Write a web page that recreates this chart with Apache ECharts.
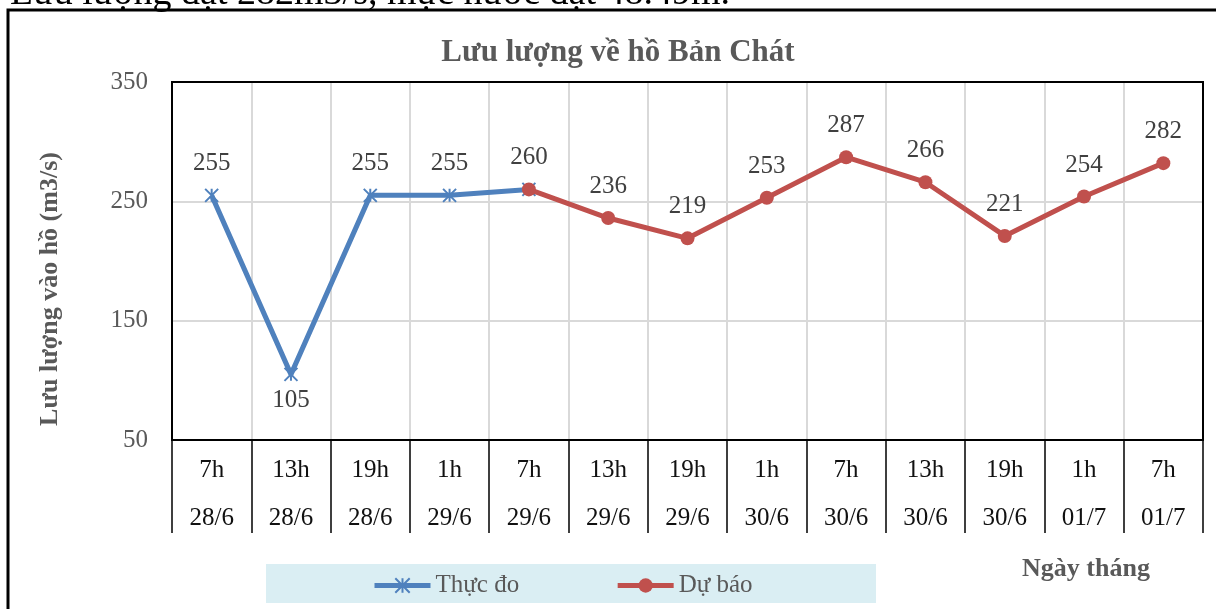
<!DOCTYPE html>
<html>
<head>
<meta charset="utf-8">
<script src="https://cdn.jsdelivr.net/npm/echarts@6/dist/echarts.min.js"></script>
<style>
html,body{margin:0;padding:0;background:#fff;}
#chart{width:1216px;height:609px;}
</style>
</head>
<body>
<div id="chart"></div>
<script>
var hours = ['7h','13h','19h','1h','7h','13h','19h','1h','7h','13h','19h','1h','7h'];
var dates = ['28/6','28/6','28/6','29/6','29/6','29/6','29/6','30/6','30/6','30/6','30/6','01/7','01/7'];
var observed = [255,105,255,255,260,null,null,null,null,null,null,null,null];
var forecast = [null,null,null,null,260,236,219,253,287,266,221,254,282];
var yTicks = [50,150,250,350];
var titleText = 'Lưu lượng về hồ Bản Chát';
var yName = 'Lưu lượng vào hồ (m3/s)';
var xName = 'Ngày tháng';
var topText = 'Lưu lượng đạt 282m3/s, mực nước đạt 48.49m.';

var FONT = '"Liberation Serif","Times New Roman",serif';
var categories = hours.map(function(h,i){ return h + '\n' + dates[i]; });

var obsData = observed.map(function(v,i){
  if (v === null) return '-';
  var item = {value: v};
  if (i === 1) item.label = {position:'bottom', distance: 6};
  if (forecast[i] !== null) item.label = {show:false};
  return item;
});
var fcData = forecast.map(function(v){ return v === null ? '-' : v; });

var chart = echarts.init(document.getElementById('chart'));
var labelStyle = {show:true, position:'top', distance:12, color:'#404040', fontSize:25, fontFamily:FONT};

chart.setOption({
  animation:false,
  backgroundColor:'#fff',
  title:{text:titleText, left:613, textAlign:'center', top:32,
    textStyle:{fontFamily:FONT, fontWeight:'bold', fontSize:31, color:'#595959'}},
  grid:{left:172, right:13, top:82, bottom:169},
  legend:{left:367, top:568, itemWidth:56, itemHeight:18, itemGap:96,
    lineStyle:{width:5},
    textStyle:{fontFamily:FONT, fontSize:25, color:'#595959'},
    data:['Thực đo','Dự báo']},
  xAxis:{type:'category', data:categories, boundaryGap:true,
    axisLine:{lineStyle:{color:'#000', width:2}},
    axisTick:{show:true, length:93, lineStyle:{color:'#000', width:1.5}},
    splitLine:{show:true, lineStyle:{color:'#D9D9D9', width:2}},
    axisLabel:{fontFamily:FONT, fontSize:25, color:'#111', lineHeight:48, margin:6, interval:0}},
  yAxis:{type:'value', min:yTicks[0], max:yTicks[yTicks.length-1], interval:100,
    axisLine:{show:false}, axisTick:{show:false},
    splitLine:{lineStyle:{color:'#D9D9D9', width:2}},
    axisLabel:{fontFamily:FONT, fontSize:25, color:'#595959', margin:24}},
  graphic:[
    {type:'rect', z:-10, shape:{x:8, y:10, width:1300, height:700}, style:{fill:'none', stroke:'#000', lineWidth:3}},
    {type:'rect', z:2, shape:{x:172, y:82, width:1031, height:358}, style:{fill:'none', stroke:'#000', lineWidth:2}},
    {type:'rect', z:0, shape:{x:266, y:564, width:610, height:39}, style:{fill:'#DAEEF3'}},
    {type:'text', x:730, y:13, style:{text:topText, font:'38px "Liberation Serif", serif', fill:'#000', textAlign:'right', textVerticalAlign:'bottom'}},
    {type:'text', x:50, y:289, rotation:Math.PI/2, style:{text:yName, font:'bold 26px "Liberation Serif", serif', fill:'#595959', textAlign:'center', textVerticalAlign:'middle'}},
    {type:'text', x:1086, y:569, style:{text:xName, font:'bold 26px "Liberation Serif", serif', fill:'#595959', textAlign:'center', textVerticalAlign:'middle'}}
  ],
  series:[
    {name:'Thực đo', type:'line', data:obsData, z:3,
     symbol:'path://M0,0L10,10M10,0L0,10M5,0L5,10', symbolSize:13,
     itemStyle:{color:'#4F81BD', borderColor:'#4F81BD', borderWidth:2},
     lineStyle:{color:'#4F81BD', width:5}, label:labelStyle},
    {name:'Dự báo', type:'line', data:fcData, z:4,
     symbol:'circle', symbolSize:14,
     itemStyle:{color:'#C0504D'},
     lineStyle:{color:'#C0504D', width:5}, label:labelStyle}
  ]
});
</script>
</body>
</html>
